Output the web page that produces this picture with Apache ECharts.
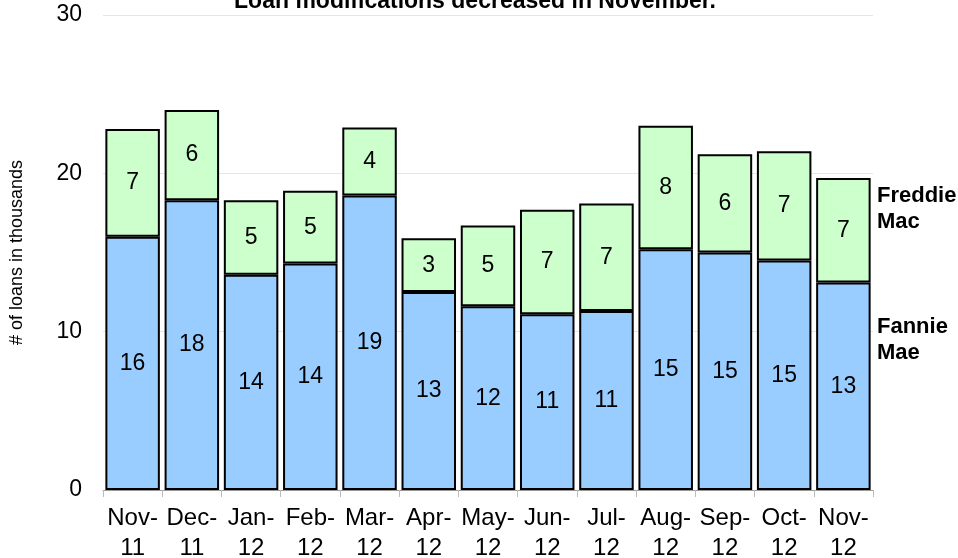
<!DOCTYPE html>
<html>
<head>
<meta charset="utf-8">
<script src="https://cdn.jsdelivr.net/npm/echarts@6/dist/echarts.min.js"></script>
<style>
  html, body { margin: 0; padding: 0; background: #fff; }
  #chart { width: 958px; height: 558px; }
</style>
</head>
<body>
<div id="chart"></div>
<script>
// months shown on the x axis
var months = ['Nov-\n11', 'Dec-\n11', 'Jan-\n12', 'Feb-\n12', 'Mar-\n12', 'Apr-\n12', 'May-\n12',
              'Jun-\n12', 'Jul-\n12', 'Aug-\n12', 'Sep-\n12', 'Oct-\n12', 'Nov-\n12'];
// loans in thousands
var fannieMae  = [16.0, 18.3, 13.6, 14.3, 18.6, 12.5, 11.6, 11.1, 11.3, 15.2, 15.0, 14.5, 13.1];
var freddieMac = [6.8, 5.7, 4.7, 4.6, 4.3, 3.4, 5.1, 6.6, 6.8, 7.8, 6.2, 6.9, 6.6];
var yTicks = [0, 10, 20, 30];

var font = 'Liberation Sans, Arial, sans-serif';

var chart = echarts.init(document.getElementById('chart'));

function seriesOf(name, data, color) {
    return {
        name: name,
        type: 'bar',
        stack: 'total',
        data: data,
        barCategoryGap: '8%',
        itemStyle: { color: color, borderColor: '#000', borderWidth: 2 },
        label: {
            show: true,
            position: 'inside',
            fontFamily: font,
            fontSize: 23,
            color: '#000',
            formatter: function (p) { return Math.round(p.value); }
        },
        emphasis: { disabled: true }
    };
}

chart.setOption({
    animation: false,
    title: {
        text: 'Loan modifications decreased in November.',
        left: 470,
        textAlign: 'center',
        top: -15,
        textStyle: { fontFamily: font, fontSize: 23, fontWeight: 'bold', color: '#000' }
    },
    grid: { left: 103, right: 85, top: 15, bottom: 68, outerBoundsMode: 'none' },
    xAxis: {
        type: 'category',
        data: months,
        axisLine: { lineStyle: { color: '#999', width: 1 } },
        axisTick: { show: true, length: 7, lineStyle: { color: '#bbb' } },
        axisLabel: {
            fontFamily: font, fontSize: 24, color: '#000',
            lineHeight: 30, margin: 13, interval: 0
        }
    },
    yAxis: {
        type: 'value',
        min: yTicks[0],
        max: yTicks[yTicks.length - 1],
        interval: 10,
        name: '# of loans in thousands',
        nameLocation: 'middle',
        nameGap: 77,
        nameTextStyle: { fontFamily: font, fontSize: 18, color: '#000' },
        axisLabel: { fontFamily: font, fontSize: 23, color: '#000', margin: 21 },
        axisLine: { show: false },
        axisTick: { show: false },
        splitLine: { lineStyle: { color: '#e6e6e6' } }
    },
    series: [
        seriesOf('Fannie Mae', fannieMae, '#99ccff'),
        seriesOf('Freddie Mac', freddieMac, '#ccffcc')
    ],
    graphic: [
        {
            type: 'text', left: 877, top: 183,
            style: { text: 'Freddie\nMac', font: 'bold 22px ' + font, lineHeight: 26, fill: '#000' }
        },
        {
            type: 'text', left: 877, top: 314,
            style: { text: 'Fannie\nMae', font: 'bold 22px ' + font, lineHeight: 26, fill: '#000' }
        }
    ]
});
</script>
</body>
</html>
